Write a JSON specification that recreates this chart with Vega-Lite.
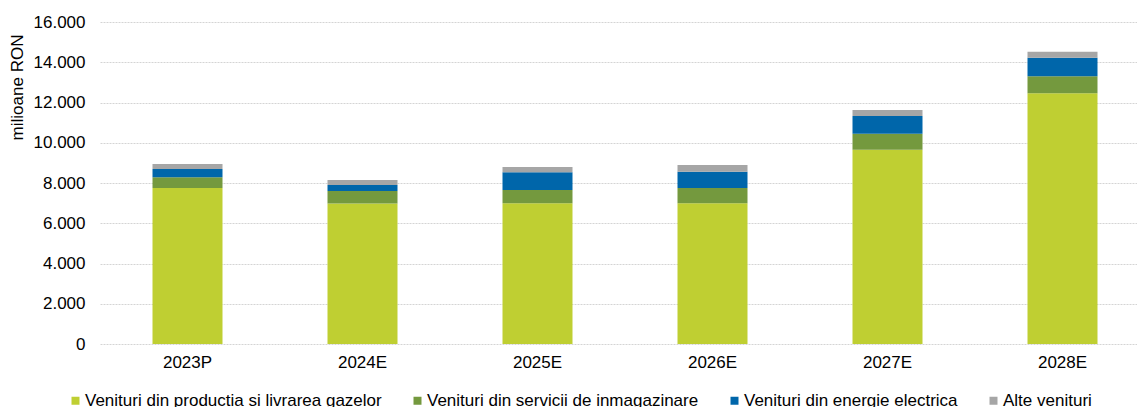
{
  "$schema": "https://vega.github.io/schema/vega-lite/v6.json",
  "autosize": {"type": "none"},
  "width": 1050,
  "height": 322,
  "padding": {"left": 100, "top": 22, "right": 0, "bottom": 63},
  "config": {
    "locale": {"number": {"decimal": ",", "thousands": ".", "grouping": [3], "currency": ["", ""]}},
    "font": "Liberation Sans",
    "view": {"stroke": null},
    "axis": {"labelFont": "Liberation Sans", "titleFont": "Liberation Sans", "labelColor": "#000000", "titleColor": "#000000"},
    "legend": {"labelFont": "Liberation Sans", "labelColor": "#000000"}
  },
  "data": {
    "values": [
      {"an": "2023P", "cat": "Venituri din productia si livrarea gazelor", "ord": 1, "val": 7750},
      {"an": "2023P", "cat": "Venituri din servicii de inmagazinare", "ord": 2, "val": 530},
      {"an": "2023P", "cat": "Venituri din energie electrica", "ord": 3, "val": 410},
      {"an": "2023P", "cat": "Alte venituri", "ord": 4, "val": 260},
      {"an": "2024E", "cat": "Venituri din productia si livrarea gazelor", "ord": 1, "val": 6980},
      {"an": "2024E", "cat": "Venituri din servicii de inmagazinare", "ord": 2, "val": 620},
      {"an": "2024E", "cat": "Venituri din energie electrica", "ord": 3, "val": 300},
      {"an": "2024E", "cat": "Alte venituri", "ord": 4, "val": 250},
      {"an": "2025E", "cat": "Venituri din productia si livrarea gazelor", "ord": 1, "val": 6990},
      {"an": "2025E", "cat": "Venituri din servicii de inmagazinare", "ord": 2, "val": 660},
      {"an": "2025E", "cat": "Venituri din energie electrica", "ord": 3, "val": 880},
      {"an": "2025E", "cat": "Alte venituri", "ord": 4, "val": 265},
      {"an": "2026E", "cat": "Venituri din productia si livrarea gazelor", "ord": 1, "val": 6990},
      {"an": "2026E", "cat": "Venituri din servicii de inmagazinare", "ord": 2, "val": 760},
      {"an": "2026E", "cat": "Venituri din energie electrica", "ord": 3, "val": 810},
      {"an": "2026E", "cat": "Alte venituri", "ord": 4, "val": 330},
      {"an": "2027E", "cat": "Venituri din productia si livrarea gazelor", "ord": 1, "val": 9650},
      {"an": "2027E", "cat": "Venituri din servicii de inmagazinare", "ord": 2, "val": 800},
      {"an": "2027E", "cat": "Venituri din energie electrica", "ord": 3, "val": 880},
      {"an": "2027E", "cat": "Alte venituri", "ord": 4, "val": 300},
      {"an": "2028E", "cat": "Venituri din productia si livrarea gazelor", "ord": 1, "val": 12460},
      {"an": "2028E", "cat": "Venituri din servicii de inmagazinare", "ord": 2, "val": 850},
      {"an": "2028E", "cat": "Venituri din energie electrica", "ord": 3, "val": 910},
      {"an": "2028E", "cat": "Alte venituri", "ord": 4, "val": 300}
    ]
  },
  "mark": {"type": "bar"},
  "encoding": {
    "x": {
      "field": "an",
      "type": "nominal",
      "sort": null,
      "scale": {"paddingInner": 0.6, "paddingOuter": 0.3},
      "axis": {
        "title": null,
        "labelAngle": 0,
        "labelFontSize": 17,
        "labelPadding": 10,
        "ticks": false,
        "domain": false
      }
    },
    "y": {
      "field": "val",
      "type": "quantitative",
      "stack": "zero",
      "scale": {"domain": [0, 16000], "nice": false},
      "axis": {
        "title": "milioane RON",
        "titleFontSize": 17,
        "titleFontWeight": "normal",
        "titleAngle": 270,
        "titleAlign": "center",
        "titleBaseline": "bottom",
        "titleX": -74,
        "titleY": 65,
        "format": ",.0f",
        "values": [0, 2000, 4000, 6000, 8000, 10000, 12000, 14000, 16000],
        "labelFontSize": 17,
        "labelPadding": 15,
        "ticks": false,
        "domain": false,
        "grid": true,
        "gridColor": "#D4D4D4",
        "gridWidth": 1.2,
        "gridDash": [2, 1]
      }
    },
    "color": {
      "field": "cat",
      "type": "nominal",
      "sort": [
        "Venituri din productia si livrarea gazelor",
        "Venituri din servicii de inmagazinare",
        "Venituri din energie electrica",
        "Alte venituri"
      ],
      "scale": {
        "domain": [
          "Venituri din productia si livrarea gazelor",
          "Venituri din servicii de inmagazinare",
          "Venituri din energie electrica",
          "Alte venituri"
        ],
        "range": ["#BFCF32", "#74993E", "#0066AA", "#A6A6A6"]
      },
      "legend": {
        "title": null,
        "orient": "none",
        "legendX": -33,
        "legendY": 370,
        "padding": 0,
        "direction": "horizontal",
        "columns": 4,
        "symbolType": "square",
        "symbolSize": 64,
        "symbolStrokeWidth": 0,
        "labelFontSize": 17,
        "labelOffset": 1,
        "columnPadding": 27,
        "labelLimit": 500
      }
    },
    "order": {"field": "ord", "type": "quantitative"}
  }
}
